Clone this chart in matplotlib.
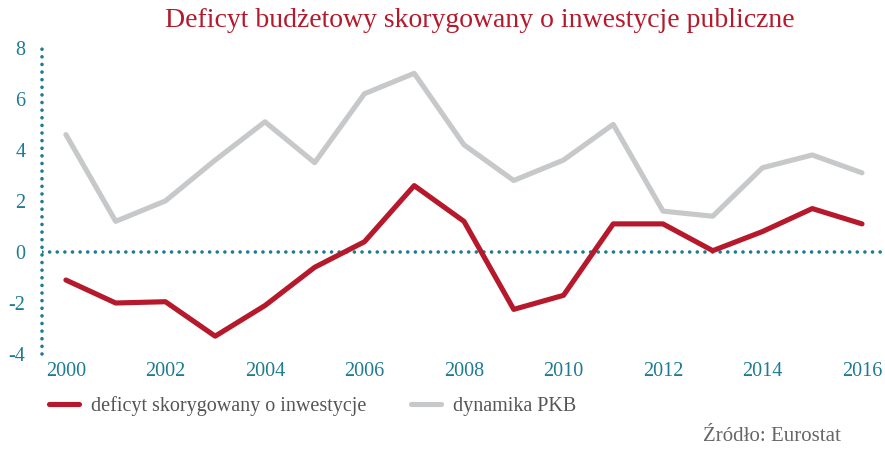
import matplotlib.pyplot as plt

# Data
years = list(range(2000, 2017))
deficit = [-1.1, -2.0, -1.95, -3.3, -2.1, -0.6, 0.4, 2.6, 1.2, -2.25, -1.7,
           1.1, 1.1, 0.05, 0.8, 1.7, 1.1]
gdp = [4.6, 1.2, 2.0, 3.6, 5.1, 3.5, 6.2, 7.0, 4.2, 2.8, 3.6,
       5.0, 1.6, 1.4, 3.3, 3.8, 3.1]
xticks = list(range(2000, 2017, 2))
yticks = [-4, -2, 0, 2, 4, 6, 8]

red = '#b5192b'
grey = '#c6c8ca'
teal = '#1d7b93'

plt.rcParams['font.family'] = ['Liberation Serif', 'DejaVu Serif']
plt.rcParams['axes.unicode_minus'] = False

fig = plt.figure(figsize=(8.85, 4.51), dpi=100)
ax = fig.add_axes([0.0475, 0.215, 0.949, 0.679])

ax.plot(years, deficit, color=red, lw=3.7, solid_capstyle='round',
        label='deficyt skorygowany o inwestycje', zorder=3)
ax.plot(years, gdp, color=grey, lw=3.7, solid_capstyle='round',
        label='dynamika PKB', zorder=2)
# dotted zero line and dotted left axis
ax.axhline(0, color=teal, lw=2.6, ls=(0, (0.01, 2.1)), dash_capstyle='round', zorder=1)
ax.axvline(1999.52, color=teal, lw=2.6, ls=(0, (0.01, 2.1)), dash_capstyle='round',
           zorder=1, clip_on=False)

ax.set_xlim(1999.52, 2016.4)
ax.set_ylim(-4, 8)
ax.set_xticks(xticks)
ax.set_yticks(yticks)
ax.tick_params(length=0, labelsize=14.5, labelcolor=teal)
ax.tick_params(axis='y', pad=12)
ax.tick_params(axis='x', pad=6)

for s in ax.spines.values():
    s.set_visible(False)

fig.text(0.542, 0.955, 'Deficyt budżetowy skorygowany o inwestycje publiczne',
         ha='center', va='center', fontsize=20, color=red)

fig.legend(loc='center left', bbox_to_anchor=(0.035, 0.1), ncol=2, frameon=False,
           fontsize=14.5, labelcolor='#555555', handlelength=1.5, columnspacing=2.2,
           handletextpad=0.6)

fig.text(0.95, 0.01, 'Źródło: Eurostat', ha='right', va='bottom',
         fontsize=15, color='#666666')

fig.savefig('out.png', dpi=100)
